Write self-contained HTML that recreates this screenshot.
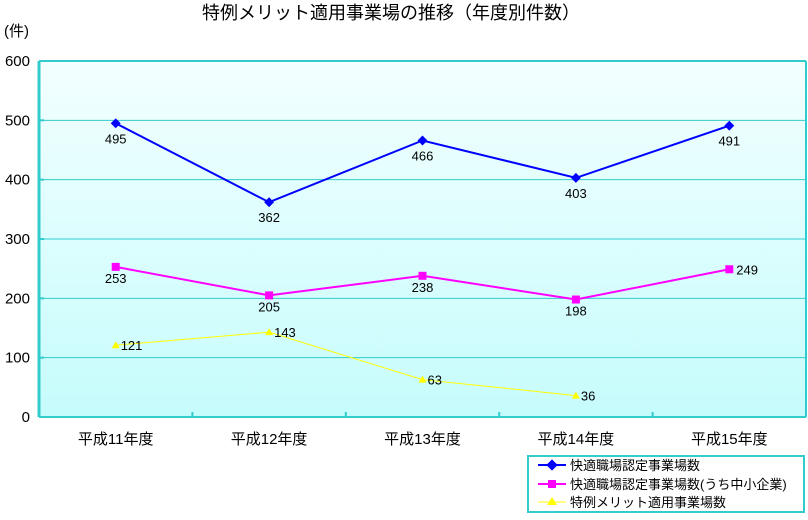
<!DOCTYPE html>
<html><head><meta charset="utf-8"><style>
body{margin:0;background:#fff;}
svg text{font-family:"Liberation Sans","Noto Sans CJK JP",sans-serif;}
</style></head><body>
<svg width="808" height="515" viewBox="0 0 808 515">
<defs><linearGradient id="bg" x1="0" y1="0" x2="0" y2="1"><stop offset="0" stop-color="#f3ffff"/><stop offset="1" stop-color="#c6fcfc"/></linearGradient></defs>
<text x="391" y="19" font-size="18" text-anchor="middle">特例メリット適用事業場の推移（年度別件数）</text>
<text x="4" y="36" font-size="15">(件)</text>
<rect x="39" y="61" width="767" height="356" fill="url(#bg)"/>
<g id="grid"></g>
<g id="series"></g>
<rect x="528" y="456" width="276" height="56" fill="#fff" stroke="#33cccc" stroke-width="2"/>
<g><line x1="538" y1="465" x2="566" y2="465" stroke="#0000ff" stroke-width="2"/><rect x="548" y="461" width="8" height="8" fill="#0000ff" transform="rotate(45 552 465)"/><text x="570" y="470" font-size="13">快適職場認定事業場数</text></g>
<g><line x1="538" y1="484" x2="566" y2="484" stroke="#ff00ff" stroke-width="2"/><rect x="548" y="480" width="8" height="8" fill="#ff00ff"/><text x="570" y="489" font-size="13">快適職場認定事業場数(うち中小企業)</text></g>
<g><line x1="538" y1="502" x2="566" y2="502" stroke="#ffff00" stroke-width="1"/><polygon points="552,497 557,505 547,505" fill="#ffff00"/><text x="570" y="507" font-size="13">特例メリット適用事業場数</text></g>
</svg>
<script>
const categories=["平成11年度","平成12年度","平成13年度","平成14年度","平成15年度"];
const yTicks=[0,100,200,300,400,500,600];
const total=[495,362,466,403,491];
const small=[253,205,238,198,249];
const merit=[121,143,63,36,null];
const NS="http://www.w3.org/2000/svg";
const L=39,R=806,T=61,B=417;
function x(i){return L+(R-L)/categories.length*(i+0.5);}
function y(v){return B-(B-T)*v/600;}
function mk(tag,attrs,parent){const e=document.createElementNS(NS,tag);for(const k in attrs)e.setAttribute(k,attrs[k]);parent.appendChild(e);return e;}
const grid=document.getElementById('grid');
yTicks.forEach(v=>{
 if(v>0){const g=mk('line',{x1:L,x2:R,y1:y(v),y2:y(v),stroke:'#33cccc','stroke-width':1},grid);
 
 }
 const tk=mk('line',{x1:L,x2:L+5,y1:y(v),y2:y(v),stroke:'#33cccc','stroke-width':2},grid);
 
 
 const t=mk('text',{x:30,y:y(v)+5,'font-size':15,'text-anchor':'end'},grid);t.textContent=v;
 
 
});
mk('line',{x1:L,x2:L,y1:T,y2:B,stroke:'#33cccc','stroke-width':3},grid);
mk('line',{x1:L,x2:R,y1:B,y2:B,stroke:'#33cccc','stroke-width':2},grid);
mk('line',{x1:R,x2:R,y1:T,y2:B,stroke:'#33cccc','stroke-width':2},grid);
mk('line',{x1:L,x2:R,y1:T,y2:T,stroke:'#33cccc','stroke-width':2},grid);
categories.forEach((c,i)=>{
 const tk=mk('line',{x1:L+(R-L)/5*(i+1),x2:L+(R-L)/5*(i+1),y1:B,y2:B-5,stroke:'#33cccc','stroke-width':2},grid);
 
 
 const t=mk('text',{x:x(i),y:444,'font-size':15,'text-anchor':'middle'},grid);t.textContent=c;
 
 
});
const ser=document.getElementById('series');
function drawSeries(vals,color,width,shape,name,labelPos){
 const pts=[];vals.forEach((v,i)=>{if(v!=null)pts.push([x(i),y(v),v,i]);});
 const pl=mk('polyline',{points:pts.map(p=>p[0]+','+p[1]).join(' '),fill:'none',stroke:color,'stroke-width':width},ser);
 
 
 pts.forEach(p=>{
  let m;
  if(shape==='diamond')m=mk('rect',{x:p[0]-3.5,y:p[1]-3.5,width:7,height:7,fill:color,transform:`rotate(45 ${p[0]} ${p[1]})`},ser);
  else if(shape==='square')m=mk('rect',{x:p[0]-4,y:p[1]-4,width:8,height:8,fill:color},ser);
  else m=mk('polygon',{points:`${p[0]},${p[1]-4} ${p[0]+4},${p[1]+3} ${p[0]-4},${p[1]+3}`,fill:color},ser);
  
  
  const lp=labelPos(p[3]);
  const t=mk('text',{x:p[0]+lp[0],y:p[1]+lp[1],'font-size':13,'text-anchor':lp[2]},ser);t.textContent=p[2];
  
  
 });
}
drawSeries(total,'#0000ff',2,'diamond','total-series',i=>[0,20,'middle']);
drawSeries(small,'#ff00ff',2,'square','sme-series',i=>i===4?[7,5,'start']:[0,16,'middle']);
drawSeries(merit,'#ffff00',1,'triangle','merit-series',i=>[5,5,'start']);
</script>
</body></html>
